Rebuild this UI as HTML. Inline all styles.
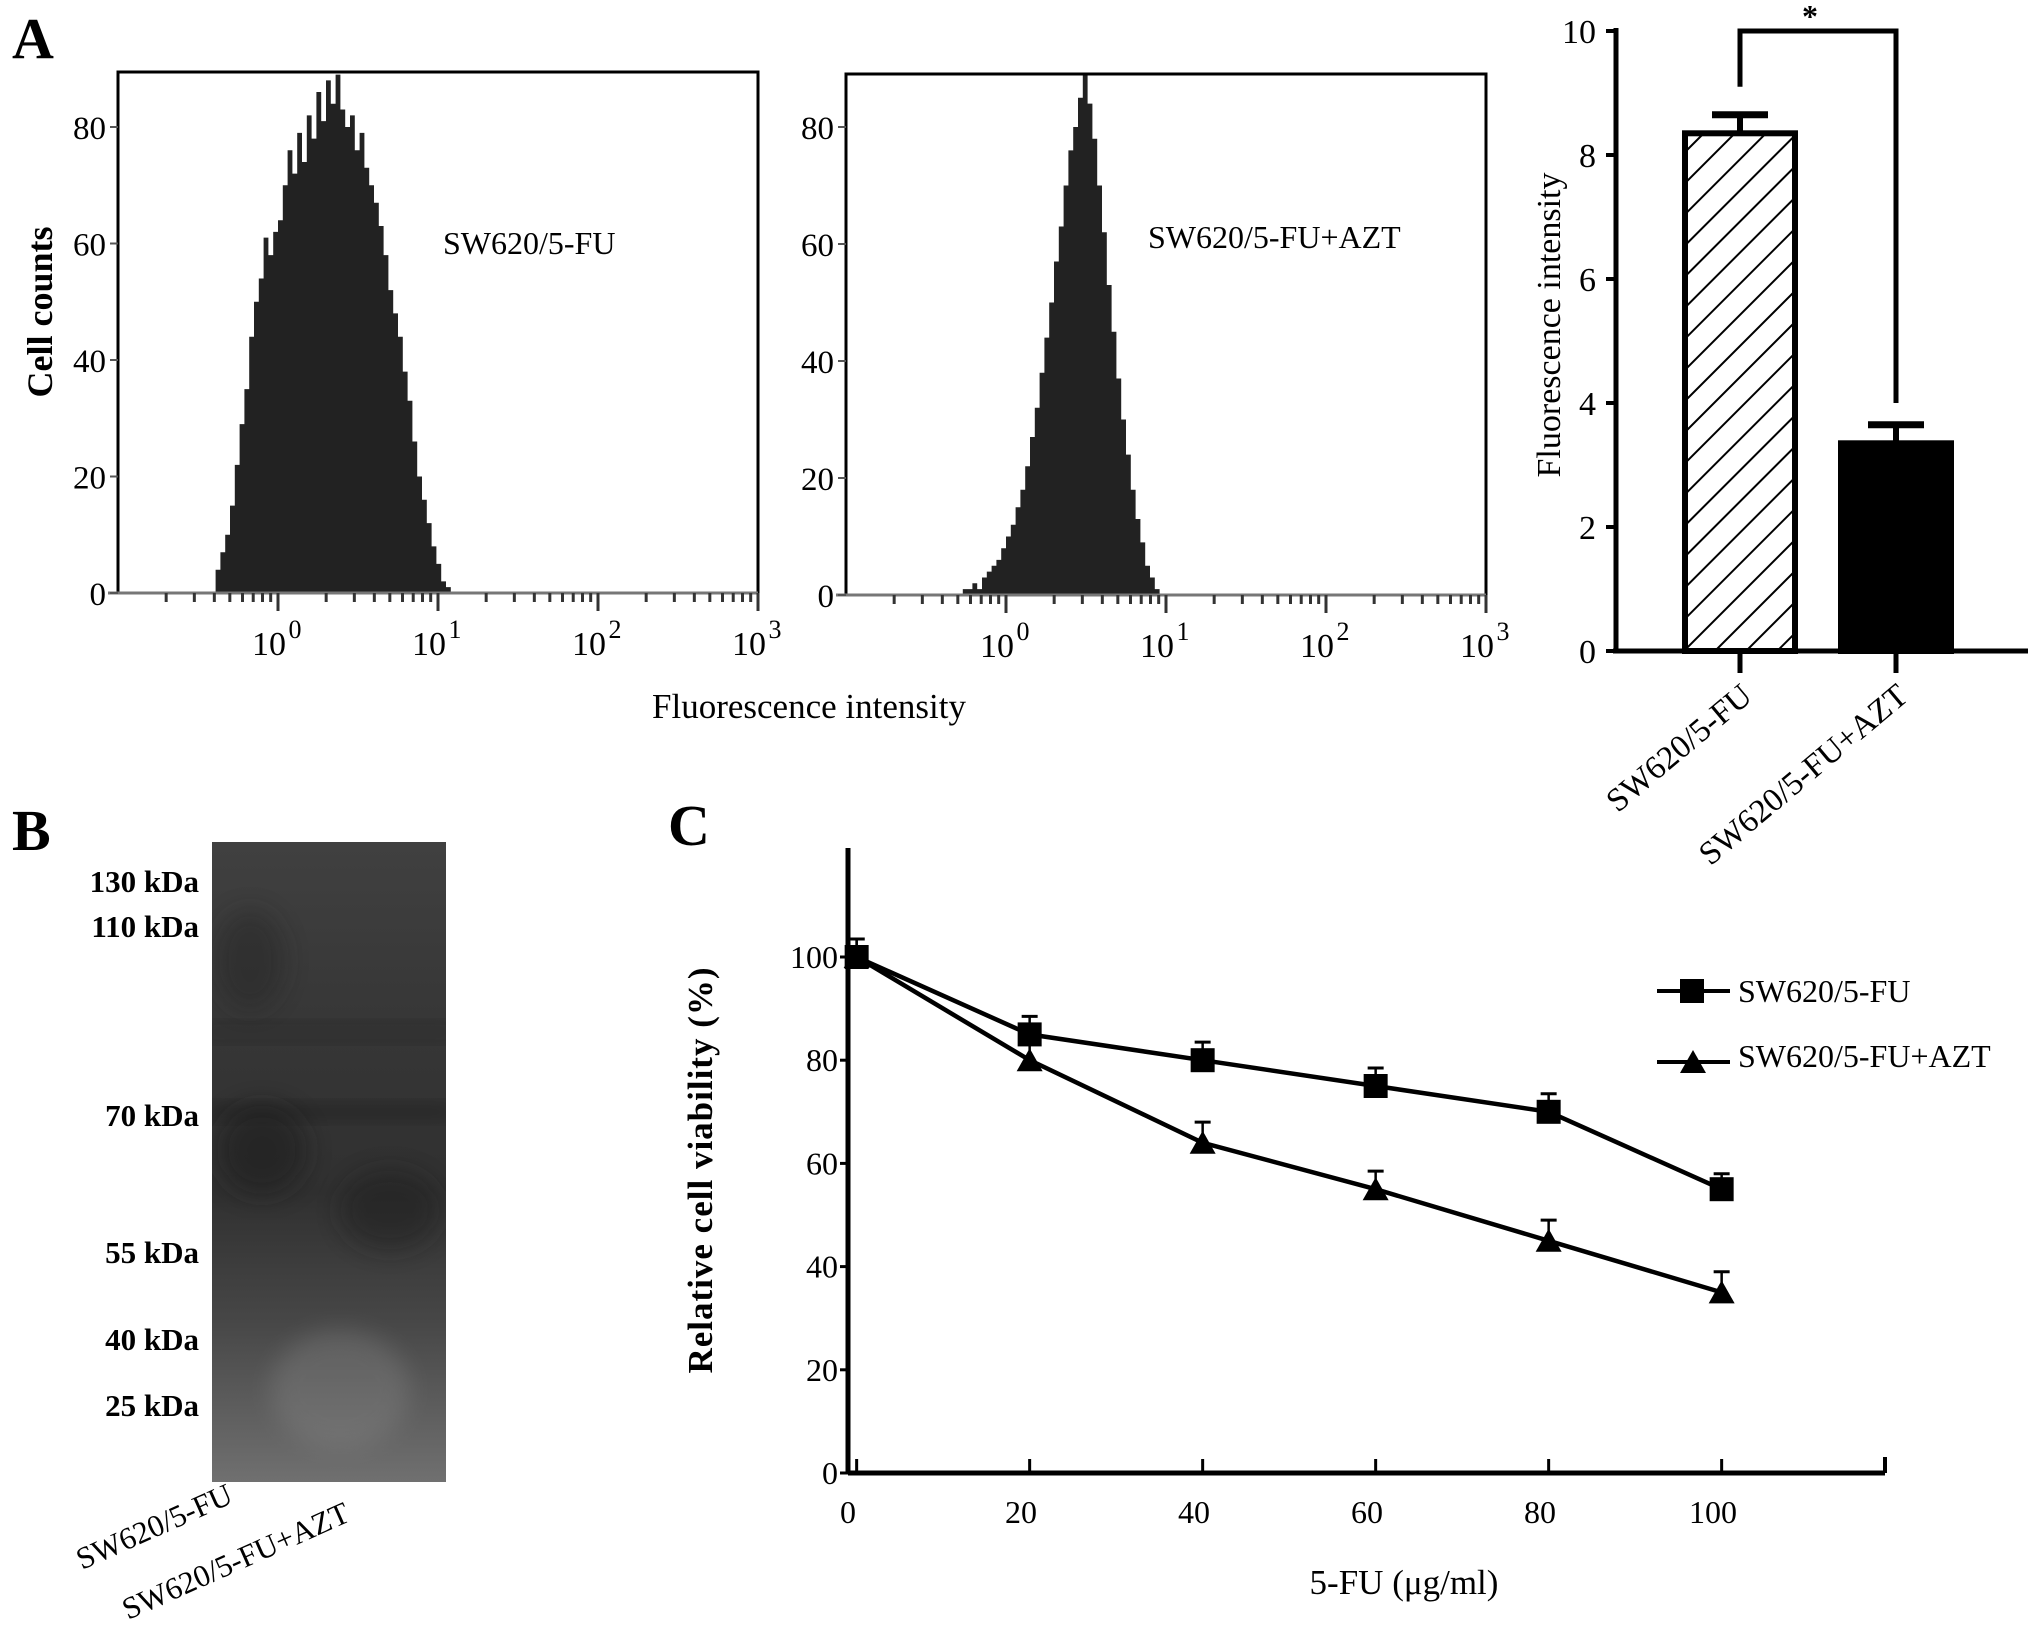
<!DOCTYPE html>
<html><head><meta charset="utf-8">
<style>
body{margin:0;background:#fff;}
svg{display:block;font-family:"Liberation Serif",serif;}
</style></head>
<body>
<svg id="fig" width="2031" height="1626" viewBox="0 0 2031 1626" xmlns="http://www.w3.org/2000/svg">
<defs>
<pattern id="hatch" patternUnits="userSpaceOnUse" width="22" height="22" patternTransform="rotate(45)">
<rect width="22" height="22" fill="#fff"/><line x1="0" y1="0" x2="0" y2="22" stroke="#000" stroke-width="4"/>
</pattern>
<linearGradient id="blotg" x1="0" y1="0" x2="0" y2="1">
<stop offset="0" stop-color="#404040"/><stop offset="0.3" stop-color="#363636"/><stop offset="0.55" stop-color="#303030"/><stop offset="0.75" stop-color="#474747"/><stop offset="1" stop-color="#707070"/>
</linearGradient>
<filter id="blur" x="-50%" y="-50%" width="200%" height="200%" filterUnits="objectBoundingBox"><feGaussianBlur stdDeviation="12"/></filter>
<clipPath id="blotclip"><rect x="212" y="842" width="234" height="640"/></clipPath>
</defs>
<g id="root"></g>
</svg>
<script>
// ---------- data ----------
const hist1Start = -0.42;
const hist1Step = 0.03;
const hist1Counts = [0,4,7,10,15,22,29,35,44,50,54,61,58,62,64,70,76,72,79,74,82,78,86,81,88,84,89,83,80,82,76,79,73,70,67,63,58,52,48,44,38,33,26,20,16,12,8,5,2,1,0];
const hist2Start = -0.30;
const hist2Step = 0.03;
const hist2Counts = [0,1,1,2,1,3,4,5,6,8,10,12,15,18,22,27,32,38,44,50,57,63,70,76,80,85,89,84,78,70,62,53,45,37,30,24,18,13,9,5,3,1,0];
const histYTicks = [0,20,40,60,80];
const histXTicks = ["0","1","2","3"];
const barCategories = ["SW620/5-FU","SW620/5-FU+AZT"];
const barValues = [8.35,3.35];
const barErrors = [0.3,0.3];
const barYTicks = [0,2,4,6,8,10];
const doseX = [1,21,41,61,81,101];
const viabFU = [100,85,80,75,70,55];
const viabAZT = [100,80,64,55,45,35];
const errFU = [3.5,3.5,3.5,3.5,3.5,3];
const errAZT = [3.5,3.5,4,3.5,4,4];
const viabYTicks = [0,20,40,60,80,100];
const viabXTicks = [0,20,40,60,80,100];
const kdaLabels = ["130 kDa","110 kDa","70 kDa","55 kDa","40 kDa","25 kDa"];
const kdaY = [881,926,1115,1252,1339,1405];

const NS="http://www.w3.org/2000/svg";
const root=document.getElementById('root');
function mk(tag,attrs,parent,text){const e=document.createElementNS(NS,tag);for(const k in attrs)e.setAttribute(k,attrs[k]);if(text!==undefined)e.textContent=text;(parent||root).appendChild(e);return e;}

let t;
t=mk('text',{x:12,y:58,'font-size':58,'font-weight':'bold'},root,'A');


t=mk('text',{x:12,y:850,'font-size':58,'font-weight':'bold'},root,'B');


t=mk('text',{x:668,y:845,'font-size':58,'font-weight':'bold'},root,'C');



// ---------- histograms ----------
function histogram(name,L,R,T,B,counts,start,step,label,labelX,labelY){
  const g=mk('g',{});
  
  
  const xs=v=>L+(v+1)/4*(R-L);
  const ys=v=>B-v*(B-127)/80;
  let d=`M${xs(start)},${B}`;
  counts.forEach((c,i)=>{const x0=xs(start+i*step),x1=xs(start+(i+1)*step);d+=`L${x0},${ys(c)}L${x1},${ys(c)}`;});
  d+=`L${xs(start+counts.length*step)},${B}Z`;
  const p=mk('path',{d:d,fill:'#222'},g);
  
  
  const box=mk('path',{d:`M${L},${B}L${L},${T}L${R},${T}L${R},${B}`,fill:'none',stroke:'#000','stroke-width':3},g);
  
  
  mk('line',{x1:L-10,y1:B,x2:R,y2:B,stroke:'#777','stroke-width':3},g);
  histYTicks.forEach(v=>{
    mk('line',{x1:L-8,y1:ys(v),x2:L,y2:ys(v),stroke:'#555','stroke-width':2},g);
    const tt=mk('text',{x:L-12,y:ys(v)+12,'font-size':33,'text-anchor':'end'},g,String(v));
    
    
  });
  for(let dcd=-1;dcd<3;dcd++){for(let m=2;m<=9;m++){const x=xs(dcd+Math.log10(m));mk('line',{x1:x,y1:B,x2:x,y2:B+9,stroke:'#333','stroke-width':3},g);}}
  histXTicks.forEach((s,i)=>{
    const x=xs(i);
    mk('line',{x1:x,y1:B,x2:x,y2:B+18,stroke:'#333','stroke-width':3},g);
    const tt=mk('text',{x:x-9,y:B+62,'font-size':34,'text-anchor':'middle'},g,'10');
    
    
    mk('text',{x:x+17,y:B+45,'font-size':26,'text-anchor':'middle'},g,s);
  });
  const lb=mk('text',{x:labelX,y:labelY,'font-size':32},g,label);
  
  
}
histogram('histogram-sw620',118,758,72,593,hist1Counts,hist1Start,hist1Step,'SW620/5-FU',443,254);
histogram('histogram-sw620-azt',846,1486,74,595,hist2Counts,hist2Start,hist2Step,'SW620/5-FU+AZT',1148,248);
t=mk('text',{x:0,y:0,'font-size':36,'font-weight':'bold','text-anchor':'middle',transform:'translate(52,312) rotate(-90)'},root,'Cell counts');


t=mk('text',{x:809,y:718,'font-size':35,'text-anchor':'middle'},root,'Fluorescence intensity');



// ---------- bar chart ----------
(function(){
  const g=mk('g',{});
  
  
  const AX=1616,Y0=651,Y10=31,XR=2028;
  const ys=v=>Y0-v*(Y0-Y10)/10;
  const cx=[1740,1896],bw=110;
  barValues.forEach((v,i)=>{
    const r=mk('rect',{x:cx[i]-bw/2,y:ys(v),width:bw,height:Y0-ys(v),fill:i==0?'url(#hatch)':'#000',stroke:'#000','stroke-width':6},g);
    
    
    const e=ys(v+barErrors[i]);
    mk('line',{x1:cx[i],y1:ys(v),x2:cx[i],y2:e,stroke:'#000','stroke-width':6},g);
    mk('line',{x1:cx[i]-28,y1:e,x2:cx[i]+28,y2:e,stroke:'#000','stroke-width':7},g);
    mk('line',{x1:cx[i],y1:Y0,x2:cx[i],y2:Y0+22,stroke:'#000','stroke-width':5},g);
    const tt=mk('text',{x:0,y:0,'font-size':33,'text-anchor':'end',transform:`translate(${cx[i]+14},${Y0+48}) rotate(-40)`},g,barCategories[i]);
    
    
  });
  mk('line',{x1:AX,y1:Y10-3,x2:AX,y2:Y0,stroke:'#000','stroke-width':5},g);
  mk('line',{x1:AX-3,y1:Y0,x2:XR,y2:Y0,stroke:'#000','stroke-width':5},g);
  barYTicks.forEach(v=>{
    mk('line',{x1:AX-10,y1:ys(v),x2:AX,y2:ys(v),stroke:'#000','stroke-width':4},g);
    const tt=mk('text',{x:AX-20,y:ys(v)+12,'font-size':34,'text-anchor':'end'},g,String(v));
    
    
  });
  const br=mk('path',{d:`M${cx[0]},${ys(9.1)}L${cx[0]},${ys(10)}L${cx[1]},${ys(10)}L${cx[1]},${ys(4.0)}`,fill:'none',stroke:'#000','stroke-width':5},g);
  
  
  const st=mk('text',{x:(cx[0]+cx[1])/2-8,y:ys(10)-4,'font-size':32,'font-weight':'bold','text-anchor':'middle'},g,'*');
  
  
  const yt=mk('text',{x:0,y:0,'font-size':34,'text-anchor':'middle',transform:'translate(1560,325) rotate(-90)'},g,'Fluorescence intensity');
  
  
})();

// ---------- western blot ----------
(function(){
  const g=mk('g',{});
  
  
  const r=mk('rect',{x:212,y:842,width:234,height:640,fill:'url(#blotg)'},g);
  
  
  const cl=mk('g',{'clip-path':'url(#blotclip)'},g);
  const add=(tag,a)=>{a.filter='url(#blur)';return mk(tag,a,cl);};
  add('rect',{x:200,y:1025,width:260,height:14,fill:'#222',opacity:0.5});
  add('rect',{x:200,y:1105,width:260,height:14,fill:'#1e1e1e',opacity:0.6});
  add('ellipse',{cx:262,cy:1150,rx:45,ry:45,fill:'#1a1a1a',opacity:0.55});
  add('ellipse',{cx:390,cy:1210,rx:50,ry:40,fill:'#1a1a1a',opacity:0.45});
  add('ellipse',{cx:250,cy:960,rx:35,ry:50,fill:'#222',opacity:0.4});
  add('ellipse',{cx:340,cy:1390,rx:70,ry:60,fill:'#909090',opacity:0.3});
  kdaLabels.forEach((s,i)=>{
    const tt=mk('text',{x:199,y:kdaY[i]+11,'font-size':31,'font-weight':'bold','text-anchor':'end'},g,s);
    
    
  });
  const l1=mk('text',{x:0,y:0,'font-size':31,'text-anchor':'start',transform:'translate(82,1570) rotate(-24)'},g,'SW620/5-FU');
  
  
  const l2=mk('text',{x:0,y:0,'font-size':31,'text-anchor':'start',transform:'translate(128,1620) rotate(-24)'},g,'SW620/5-FU+AZT');
  
  
})();

// ---------- viability line chart ----------
(function(){
  const g=mk('g',{});
  
  
  const X0=848,XU=8.65,Y0=1473,YU=5.16,XR=1885;
  const xs=v=>X0+v*XU, ys=v=>Y0-v*YU;
  mk('line',{x1:X0,y1:848,x2:X0,y2:Y0,stroke:'#000','stroke-width':5},g);
  mk('line',{x1:X0,y1:Y0,x2:XR,y2:Y0,stroke:'#000','stroke-width':5},g);
  mk('line',{x1:XR,y1:Y0,x2:XR,y2:Y0-16,stroke:'#000','stroke-width':4},g);
  viabYTicks.forEach(v=>{
    mk('line',{x1:X0-8,y1:ys(v),x2:X0,y2:ys(v),stroke:'#000','stroke-width':3},g);
    const tt=mk('text',{x:X0-10,y:ys(v)+11,'font-size':32,'text-anchor':'end'},g,String(v));
    
    
  });
  viabXTicks.forEach(v=>{
    mk('line',{x1:xs(v+1),y1:Y0,x2:xs(v+1),y2:Y0-14,stroke:'#000','stroke-width':3},g);
    const tt=mk('text',{x:xs(v),y:Y0+50,'font-size':32,'text-anchor':'middle'},g,String(v));
    
    
  });
  function series(name,vals,errs,marker){
    const sg=mk('g',{},g);
    
    
    let d='';
    vals.forEach((v,i)=>{d+=(i?'L':'M')+xs(doseX[i])+','+ys(v);});
    const ln=mk('path',{d:d,fill:'none',stroke:'#000','stroke-width':4.5},sg);
    
    
    vals.forEach((v,i)=>{
      const x=xs(doseX[i]),y=ys(v),ye=ys(v+errs[i]);
      mk('line',{x1:x,y1:y,x2:x,y2:ye,stroke:'#000','stroke-width':2.5},sg);
      mk('line',{x1:x-8,y1:ye,x2:x+8,y2:ye,stroke:'#000','stroke-width':3},sg);
      let m;
      if(marker=='square') m=mk('rect',{x:x-12,y:y-12,width:24,height:24,fill:'#000'},sg);
      else m=mk('polygon',{points:`${x},${y-12} ${x+13},${y+11} ${x-13},${y+11}`,fill:'#000'},sg);
      
      
    });
  }
  series('series-sw620',viabFU,errFU,'square');
  series('series-sw620-azt',viabAZT,errAZT,'triangle');
  const lg=mk('g',{},g);
  
  
  mk('line',{x1:1657,y1:991,x2:1730,y2:991,stroke:'#000','stroke-width':4},lg);
  mk('rect',{x:1680,y:979,width:24,height:24,fill:'#000'},lg);
  let tt=mk('text',{x:1738,y:1002,'font-size':32},lg,'SW620/5-FU');
  
  
  mk('line',{x1:1657,y1:1062,x2:1730,y2:1062,stroke:'#000','stroke-width':4},lg);
  mk('polygon',{points:'1693,1050 1706,1073 1680,1073',fill:'#000'},lg);
  tt=mk('text',{x:1738,y:1067,'font-size':32},lg,'SW620/5-FU+AZT');
  
  
  tt=mk('text',{x:0,y:0,'font-size':35,'font-weight':'bold','letter-spacing':'1','text-anchor':'middle',transform:'translate(712,1170) rotate(-90)'},g,'Relative cell viability (%)');
  
  
  tt=mk('text',{x:1404,y:1594,'font-size':35,'text-anchor':'middle'},g,'5-FU  (μg/ml)');
  
  
})();
</script>
</body></html>
